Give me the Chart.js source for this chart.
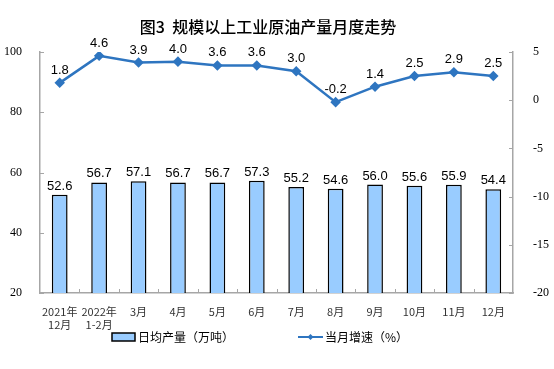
<!DOCTYPE html>
<html>
<head>
<meta charset="utf-8">
<script src="https://cdn.jsdelivr.net/npm/chart.js@4.4.1/dist/chart.umd.min.js"></script>
<style>
  html, body { margin: 0; padding: 0; background: #fff; }
  #wrap { width: 554px; height: 369px; position: relative; }
</style>
</head>
<body>
<div id="wrap"><canvas id="chart"></canvas></div>
<script>
// chart data
const months = [['2021年', '12月'], ['2022年', '1-2月'], '3月', '4月', '5月', '6月', '7月', '8月', '9月', '10月', '11月', '12月'];
const dailyOutput = [52.6, 56.7, 57.1, 56.7, 56.7, 57.3, 55.2, 54.6, 56.0, 55.6, 55.9, 54.4];
const monthlyGrowth = [1.8, 4.6, 3.9, 4.0, 3.6, 3.6, 3.0, -0.2, 1.4, 2.5, 2.9, 2.5];
const seriesNames = ['日均产量（万吨）', '当月增速（%）'];
const chartTitle = '图3  规模以上工业原油产量月度走势';

const BAR_FILL = '#99ccff';
const LINE_BLUE = '#2e75c0';
const AXIS_GREY = '#a6a6a6';

// title, value labels, inner tick marks and legend drawn by hand
const extras = {
  id: 'extras',
  afterDatasetsDraw(chart) {
    const ctx = chart.ctx;
    const area = chart.chartArea;
    ctx.save();

    // inward tick marks
    ctx.strokeStyle = AXIS_GREY;
    ctx.lineWidth = 1;
    ['y', 'y2'].forEach(id => {
      const sc = chart.scales[id];
      const x0 = id === 'y' ? area.left : area.right;
      const dir = id === 'y' ? 1 : -1;
      sc.ticks.forEach(t => {
        const y = Math.round(sc.getPixelForValue(t.value)) + 0.5;
        ctx.beginPath();
        ctx.moveTo(x0, y);
        ctx.lineTo(x0 + dir * 4, y);
        ctx.stroke();
      });
    });
    const step = (area.right - area.left) / months.length;
    for (let i = 1; i < months.length; i++) {
      const x = Math.round(area.left + step * i) + 0.5;
      ctx.beginPath();
      ctx.moveTo(x, area.bottom);
      ctx.lineTo(x, area.bottom - 4);
      ctx.stroke();
    }

    ctx.fillStyle = '#000';
    ctx.textAlign = 'center';
    ctx.textBaseline = 'alphabetic';

    // title
    ctx.font = '500 16px "Noto Sans CJK SC"';
    ctx.fillText(chartTitle, 268, 33);

    // labels
    ctx.font = '13px "Liberation Sans", Arial';
    chart.getDatasetMeta(0).data.forEach((bar, i) => {
      ctx.fillText(dailyOutput[i].toFixed(1), bar.x, bar.y - 5);
    });
    chart.getDatasetMeta(1).data.forEach((pt, i) => {
      ctx.fillText(monthlyGrowth[i].toFixed(1), pt.x, pt.y - 9);
    });

    // legend
    const ly = 337;
    ctx.fillStyle = BAR_FILL;
    ctx.strokeStyle = '#000';
    ctx.lineWidth = 1.5;
    ctx.fillRect(112, ly - 4, 23, 8);
    ctx.strokeRect(112, ly - 4, 23, 8);
    ctx.font = '12px "Noto Sans CJK SC"';
    ctx.fillStyle = '#000';
    ctx.textAlign = 'left';
    ctx.textBaseline = 'middle';
    ctx.fillText(seriesNames[0], 138, ly);

    ctx.strokeStyle = LINE_BLUE;
    ctx.lineWidth = 2;
    ctx.beginPath();
    ctx.moveTo(298, ly);
    ctx.lineTo(323, ly);
    ctx.stroke();
    ctx.fillStyle = LINE_BLUE;
    ctx.beginPath();
    ctx.moveTo(310.5, ly - 3);
    ctx.lineTo(313.5, ly);
    ctx.lineTo(310.5, ly + 3);
    ctx.lineTo(307.5, ly);
    ctx.closePath();
    ctx.fill();
    ctx.fillStyle = '#000';
    ctx.fillText(seriesNames[1], 325, ly);
    ctx.restore();
  }
};

new Chart(document.getElementById('chart'), {
  data: {
    labels: months,
    datasets: [
      {
        type: 'bar',
        label: seriesNames[0],
        data: dailyOutput,
        backgroundColor: BAR_FILL,
        borderColor: '#000',
        borderWidth: 1.5,
        barPercentage: 0.4,
        categoryPercentage: 1,
        yAxisID: 'y',
        order: 2
      },
      {
        type: 'line',
        label: seriesNames[1],
        data: monthlyGrowth,
        borderColor: LINE_BLUE,
        backgroundColor: LINE_BLUE,
        borderWidth: 2.5,
        pointStyle: 'rectRot',
        pointRadius: 3.5,
        pointHoverRadius: 3.5,
        tension: 0,
        yAxisID: 'y2',
        order: 1
      }
    ]
  },
  options: {
    responsive: true,
    maintainAspectRatio: false,
    animation: false,
    layout: { padding: { top: 52, left: 0, right: 0, bottom: 0 } },
    plugins: {
      legend: { display: false },
      tooltip: { enabled: false },
      title: { display: false }
    },
    scales: {
      x: {
        grid: { display: false },
        border: { display: true, color: AXIS_GREY, width: 1.5 },
        ticks: {
          color: '#333',
          font: { family: '"Noto Sans CJK SC"', size: 11 },
          padding: 4,
          maxRotation: 0,
          autoSkip: false
        },
        afterFit(axis) { axis.height = 76; }
      },
      y: {
        position: 'left',
        min: 20,
        max: 100,
        grid: { display: false },
        border: { display: true, color: AXIS_GREY, width: 1.5 },
        ticks: {
          stepSize: 20,
          color: '#000',
          font: { family: '"Liberation Serif"', size: 12 },
          padding: 10
        },
        afterFit(axis) { axis.width = 40; }
      },
      y2: {
        position: 'right',
        min: -20,
        max: 5,
        grid: { display: false },
        border: { display: true, color: AXIS_GREY, width: 1.5 },
        ticks: {
          stepSize: 5,
          color: '#000',
          font: { family: '"Liberation Serif"', size: 12 },
          padding: 12
        },
        afterFit(axis) { axis.width = 41; }
      }
    }
  },
  plugins: [extras]
});
</script>
</body>
</html>
